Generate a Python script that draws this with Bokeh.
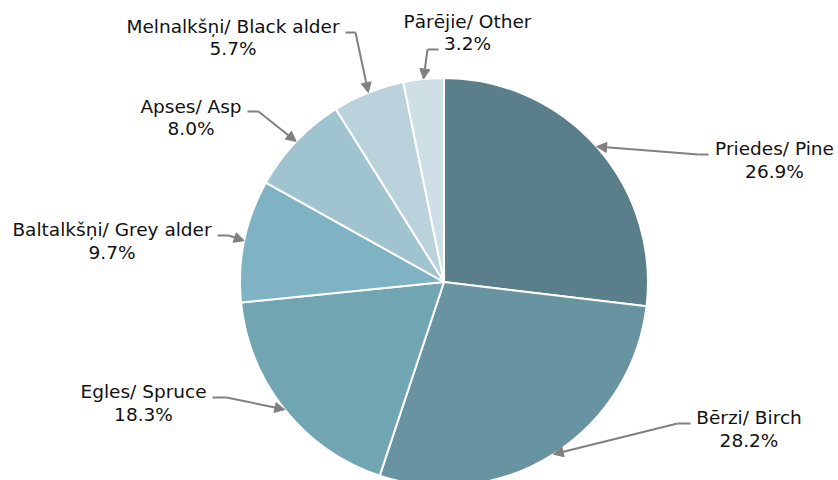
import numpy as np
from bokeh.plotting import figure
from bokeh.models import Range1d, ColumnDataSource, Arrow, NormalHead
from bokeh.core.properties import value
from bokeh.embed import file_html
from bokeh.resources import INLINE

# ---- data ----
names = ["Priedes/ Pine", "Bērzi/ Birch", "Egles/ Spruce", "Baltalkšņi/ Grey alder",
         "Apses/ Asp", "Melnalkšņi/ Black alder", "Pārējie/ Other"]
shares = [26.9, 28.2, 18.3, 9.7, 8.0, 5.7, 3.2]
colors = ["#5b7f8a", "#6794a0", "#72a5b2", "#7fb3c3", "#a0c3d0", "#bad2dc", "#cfdfe6"]

# ---- layout (screen pixel coords of the reference) ----
W, H = 838, 480
def X(sx): return sx
def Y(sy): return H - sy

cx, cy, R = X(443.5), Y(281.5), 204
# label text: center x, first-line center y (screen)
label_pos = [(774, 148), (748.5, 417), (143, 391), (111.5, 229),
             (190.5, 105.5), (232.5, 25.5), (467, 20.5)]
line_gap = 22.5
# leader start point and elbow (screen)
leader_start = [(708, 154), (690, 423), (212, 397), (217, 235),
                (247, 111), (345, 32), (438, 49)]
leader_elbow = [(698, 154), (677, 423), (226, 397), (228, 235),
                (258, 111), (355, 32), (427, 49)]

p = figure(width=W, height=H, output_backend="svg", toolbar_location=None,
           x_range=Range1d(0, W), y_range=Range1d(0, H), min_border=0)
p.axis.visible = False
p.grid.visible = False
p.outline_line_color = None
p.background_fill_color = "white"
p.border_fill_color = "white"

vals = np.array(shares) / np.sum(shares)
cum = np.concatenate([[0], np.cumsum(vals)])
start = np.pi / 2 - 2 * np.pi * cum[1:]
end = np.pi / 2 - 2 * np.pi * cum[:-1]
src = ColumnDataSource(dict(start=start, end=end, color=colors, name=names))
p.wedge(x=cx, y=cy, radius=R, start_angle="start", end_angle="end",
        direction="anticlock", fill_color="color", line_color="white",
        line_width=2, source=src)

mid = np.pi / 2 - 2 * np.pi * (cum[:-1] + vals / 2)
for i, n in enumerate(names):
    tx = cx + R * np.cos(mid[i])
    ty = cy + R * np.sin(mid[i])
    (s0x, s0y), (e0x, e0y) = leader_start[i], leader_elbow[i]
    p.line([X(s0x), X(e0x)], [Y(s0y), Y(e0y)], line_color="#808080", line_width=2)
    p.add_layout(Arrow(x_start=X(e0x), y_start=Y(e0y), x_end=tx, y_end=ty,
                       line_color="#808080", line_width=2,
                       end=NormalHead(size=10, fill_color="#808080", line_color="#808080")))
    lx, ly = label_pos[i]
    p.text(x=[X(lx)], y=[Y(ly)], text=[n], text_align="center",
           text_baseline="middle", text_font=value("DejaVu Sans"),
           text_font_size="18.5px", text_color="#111111")
    p.text(x=[X(lx)], y=[Y(ly + line_gap)], text=[f"{shares[i]:.1f}%"], text_align="center",
           text_baseline="middle", text_font=value("DejaVu Sans"),
           text_font_size="18.5px", text_color="#111111")

open("out.html", "w").write(file_html(p, INLINE))
